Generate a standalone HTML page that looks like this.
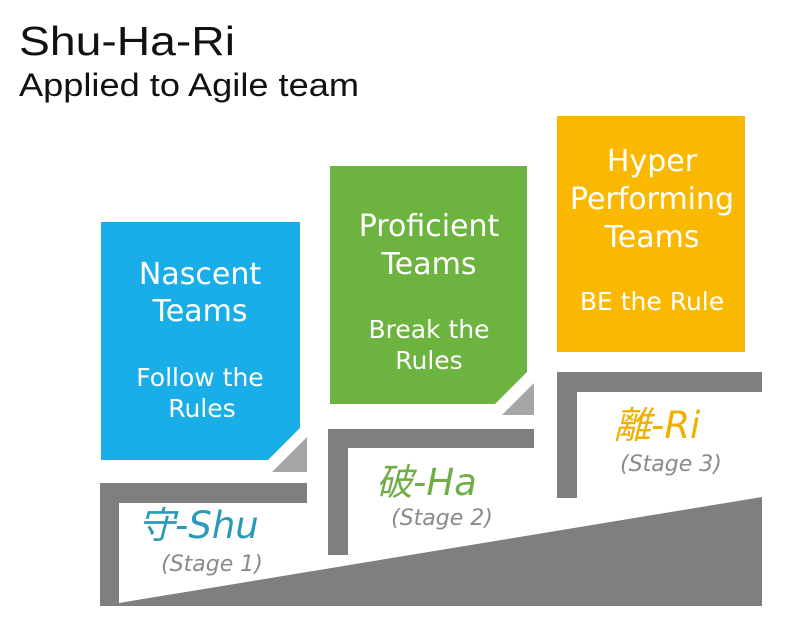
<!DOCTYPE html>
<html><head><meta charset="utf-8"><style>
html,body{margin:0;padding:0;background:#fff;}
svg{display:block;}
.v{font-family:"DejaVu Sans","Noto Sans CJK JP",sans-serif;fill:#fff;text-anchor:middle;}
</style></head><body>
<svg width="785" height="622" viewBox="0 0 785 622" xmlns="http://www.w3.org/2000/svg">
<rect width="785" height="622" fill="#fff"/>
<text x="19" y="55" font-family="Liberation Sans, sans-serif" font-size="41" fill="#111" textLength="216" lengthAdjust="spacingAndGlyphs">Shu-Ha-Ri</text>
<text x="19" y="96" font-family="Liberation Sans, sans-serif" font-size="32" fill="#111" textLength="340" lengthAdjust="spacingAndGlyphs">Applied to Agile team</text>

<g fill="#7f7f7f">
<polygon points="100,483 307,483 307,503 119,503 119,603 762,497 762,606 100,606"/>
<polygon points="328,429 534,429 534,448 348,448 348,555 328,555"/>
<polygon points="557,372 762,372 762,392 577,392 577,498 557,498"/>
</g>
<g fill="#a6a6a6">
<polygon points="272,472 307,472 307,437"/>
<polygon points="502,415 534,415 534,383"/>
</g>

<polygon points="101,222 300,222 300,428 268,460 101,460" fill="#1aaee8"/>
<polygon points="330,166 527,166 527,372 495,404 330,404" fill="#6db33f"/>
<rect x="557" y="116" width="188" height="236" fill="#fbb800"/>

<g class="v" font-size="30">
<text x="200" y="284">Nascent</text>
<text x="200" y="321">Teams</text>
<text x="429" y="236">Proficient</text>
<text x="429" y="274">Teams</text>
<text x="652" y="171">Hyper</text>
<text x="652" y="209">Performing</text>
<text x="652" y="247">Teams</text>
</g>
<g class="v" font-size="25">
<text x="200" y="386">Follow the</text>
<text x="202" y="417">Rules</text>
<text x="429" y="338">Break the</text>
<text x="429" y="369">Rules</text>
<text x="652" y="310">BE the Rule</text>
</g>

<g font-family="DejaVu Sans, Noto Sans CJK JP, sans-serif" font-style="italic">
<text x="138" y="538" font-size="37" fill="#2a9ab8">守-Shu</text>
<text x="212" y="571" font-size="22" fill="#8a8a8a" text-anchor="middle">(Stage 1)</text>
<text x="376" y="495" font-size="37" fill="#70ad47">破-Ha</text>
<text x="442" y="525" font-size="22" fill="#8a8a8a" text-anchor="middle">(Stage 2)</text>
<text x="614" y="438" font-size="37" fill="#f0b000">離-Ri</text>
<text x="671" y="471" font-size="22" fill="#8a8a8a" text-anchor="middle">(Stage 3)</text>
</g>
</svg>
</body></html>
